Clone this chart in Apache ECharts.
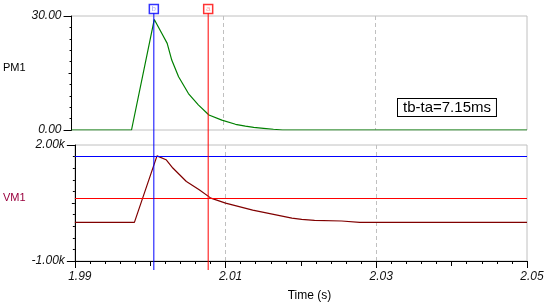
<!DOCTYPE html>
<html lang="en">
  <head>
    <meta charset="UTF-8" />
    <title>PM1 / VM1</title>
    <style>
      html, body { margin: 0; padding: 0; background: #fff; }
      #main { width: 549px; height: 308px; }
    </style>
  </head>
  <body>
    <div id="main"></div>
    <script src="https://cdn.jsdelivr.net/npm/echarts@6/dist/echarts.min.js"></script>
    <script>
      // PM1 trace (time in s)
      const timePM = [1.99, 1.9979, 2.0009, 2.0019, 2.0026, 2.0032, 2.0041, 2.0054, 2.0067, 2.0081, 2.0098, 2.0116, 2.0129, 2.014, 2.0153, 2.0166, 2.0178, 2.05]
      const pm1 = [0, 0, 29.1, 25.4, 22.8, 18.4, 14.0, 9.6, 6.6, 3.95, 2.6, 1.5, 1.0, 0.7, 0.45, 0.2, 0, 0]
      // VM1 trace
      const timeVM = [1.99, 1.9979, 2.0009, 2.0021, 2.003, 2.0048, 2.0065, 2.00805, 2.01, 2.0136, 2.0188, 2.0201, 2.0218, 2.0254, 2.0278, 2.05]
      const vm1 = [0, 0, 1720, 1619, 1404, 1056, 841, 626, 496, 315, 107, 76, 50, 35, 0, 0]
      // cursors: b (blue) and a (red)
      const cursorTimes = [2.0009, 2.00805]
      const cursorLevels = [1720, 626]
      const cursorNames = ['b', 'a']
      const cursorColors = ['#0000ff', '#ff0000']
      const cursorFaint = ['#8c8cff', '#ff8c8c']
      // tick labels
      const pmLabels = { 0: '0.00', 30: '30.00' }
      const vmLabels = { '-1000': '-1.00k', 2000: '2.00k' }

      const font = 'Liberation Sans, Arial, sans-serif'
      const gray = '#c0c0c0'
      const X_MIN = 1.99, X_MAX = 2.05

      let myChart = echarts.init(document.getElementById('main'))

      const zip = (xs, ys) => xs.map((x, i) => [x, ys[i]])

      const tickLabel = {
        fontFamily: font, fontSize: 12, fontStyle: 'italic', color: '#111'
      }

      // hidden x axis helper
      function xBase(grid, extra) {
        return Object.assign({
          type: 'value', gridIndex: grid, min: X_MIN, max: X_MAX, position: 'bottom',
          axisLine: { show: false, onZero: false }, axisTick: { show: false },
          axisLabel: { show: false }, splitLine: { show: false }
        }, extra)
      }

      const dashed = {
        show: true, showMinLine: false, showMaxLine: false,
        lineStyle: { color: gray, type: [4, 3], width: 1 }
      }

      let cursorSeries = []
      cursorTimes.forEach((t, i) => {
        cursorSeries.push({
          type: 'line', xAxisIndex: 3, yAxisIndex: 4, z: 5,
          data: [[t, 0], [t, 1]], symbol: 'none', silent: true,
          lineStyle: { color: cursorColors[i], width: 1 }
        })
        cursorSeries.push({
          type: 'scatter', xAxisIndex: 3, yAxisIndex: 4, z: 6,
          data: [[t, 1]], symbol: 'rect', symbolSize: 9, symbolOffset: [0, -4],
          itemStyle: { color: '#fff', borderColor: cursorColors[i], borderWidth: 1.5 },
          label: {
            show: true, position: 'inside', formatter: cursorNames[i],
            fontSize: 8, fontFamily: font, color: cursorFaint[i]
          }
        })
      })

      let option = {
        animation: false,
        backgroundColor: '#fff',
        grid: [
          { left: 71, top: 16, width: 456, height: 114, show: true, borderColor: gray, borderWidth: 1, backgroundColor: 'transparent' },
          { left: 71, top: 145, width: 456, height: 116, show: true, borderColor: gray, borderWidth: 1, backgroundColor: 'transparent' },
          { left: 71, top: 13, width: 456, height: 257, show: false }
        ],
        xAxis: [
          xBase(0, { interval: 0.02, splitLine: dashed }),
          xBase(1, {
            interval: 0.02,
            axisLine: { show: true, onZero: false, lineStyle: { color: '#000', width: 1 } },
            axisTick: { show: true, length: 7, lineStyle: { color: '#000' } },
            minorTick: { show: true, splitNumber: 10, length: 3, lineStyle: { color: '#000' } },
            axisLabel: Object.assign({ show: true, margin: 10, padding: [0, 0, 0, 10],
              formatter: v => v.toFixed(2) }, tickLabel),
            splitLine: dashed,
            name: 'Time (s)', nameLocation: 'middle', nameGap: 29,
            nameTextStyle: { fontFamily: font, fontSize: 12, color: '#000', padding: [0, 0, 0, 17] }
          }),
          xBase(1, {
            interval: 0.01,
            axisTick: { show: true, length: 5, lineStyle: { color: '#000' } }
          }),
          xBase(2, {})
        ],
        yAxis: [
          {
            type: 'value', gridIndex: 0, min: 0, max: 30, interval: 30, position: 'left',
            axisLine: { show: true, onZero: false, lineStyle: { color: '#000' } },
            axisTick: { show: true, length: 8, lineStyle: { color: '#000' } },
            axisLabel: Object.assign({ margin: 10, formatter: v => pmLabels[v] || '' }, tickLabel),
            splitLine: { show: false },
            name: 'PM1', nameLocation: 'middle', nameRotate: 0, nameGap: 44,
            nameTextStyle: { fontFamily: font, fontSize: 11, color: '#000', verticalAlign: 'bottom' }
          },
          {
            type: 'value', gridIndex: 0, min: 0, max: 30, interval: 15, position: 'left',
            axisLine: { show: false, onZero: false },
            axisTick: { show: true, length: 3, lineStyle: { color: '#000' } },
            minorTick: { show: true, splitNumber: 5, length: 2, lineStyle: { color: '#000' } },
            axisLabel: { show: false }, splitLine: { show: false }
          },
          {
            type: 'value', gridIndex: 1, min: -1000, max: 2000, interval: 3000, position: 'left',
            axisLine: { show: true, onZero: false, lineStyle: { color: '#000' } },
            axisTick: { show: true, length: 8, lineStyle: { color: '#000' } },
            axisLabel: Object.assign({ margin: 10, formatter: v => vmLabels[v] || '' }, tickLabel),
            splitLine: { show: false },
            name: 'VM1', nameLocation: 'middle', nameRotate: 0, nameGap: 44,
            nameTextStyle: { fontFamily: font, fontSize: 11, color: '#99003d', verticalAlign: 'bottom' }
          },
          {
            type: 'value', gridIndex: 1, min: -1000, max: 2000, interval: 1500, position: 'left',
            axisLine: { show: false, onZero: false },
            axisTick: { show: true, length: 3, lineStyle: { color: '#000' } },
            minorTick: { show: true, splitNumber: 5, length: 2, lineStyle: { color: '#000' } },
            axisLabel: { show: false }, splitLine: { show: false }
          },
          {
            type: 'value', gridIndex: 2, min: 0, max: 1, show: false
          }
        ],
        series: [
          {
            name: 'PM1', type: 'line', xAxisIndex: 0, yAxisIndex: 0, z: 3,
            data: zip(timePM, pm1), symbol: 'none',
            lineStyle: { color: '#008000', width: 1.2 }
          },
          {
            name: 'VM1', type: 'line', xAxisIndex: 1, yAxisIndex: 2, z: 3,
            data: zip(timeVM, vm1), symbol: 'none',
            lineStyle: { color: '#800000', width: 1.2 },
            markLine: {
              silent: true, symbol: 'none', label: { show: false },
              data: cursorLevels.map((v, i) => ({
                yAxis: v, lineStyle: { color: cursorColors[i], width: 1, type: 'solid' }
              }))
            }
          }
        ].concat(cursorSeries),
        graphic: [
          {
            type: 'text', left: 397, top: 98, z: 10,
            style: {
              text: 'tb-ta=7.15ms', font: '15px ' + font, fill: '#000',
              backgroundColor: '#fff', borderColor: '#000', borderWidth: 1,
              padding: [1, 5, 1, 5]
            }
          }
        ]
      }
      myChart.setOption(option)
    </script>
  </body>
</html>
